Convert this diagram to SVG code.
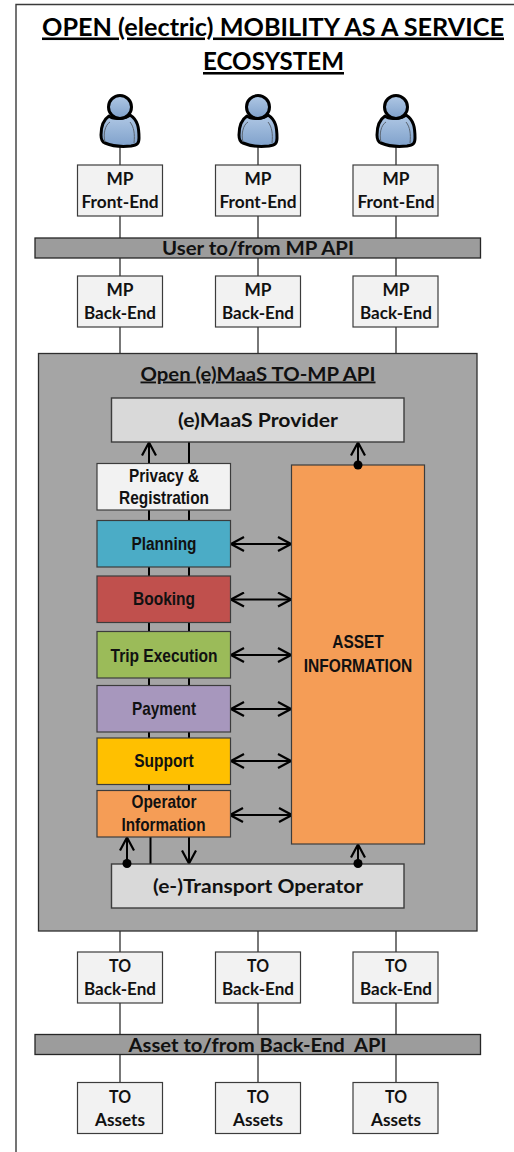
<svg xmlns="http://www.w3.org/2000/svg" xmlns:xlink="http://www.w3.org/1999/xlink" width="514" height="1152" viewBox="0 0 514 1152">
<style>
text{font-family:Lato,"Open Sans","Liberation Sans",sans-serif;font-weight:700;fill:#111;text-anchor:middle}
.t{font-size:16.5px}
.bar{font-size:18.5px}
.h{font-size:19.5px}
.n{font-family:"Liberation Sans Narrow","Liberation Sans",sans-serif;font-size:18.5px}
.title{font-size:25.5px;fill:#000;text-decoration:underline}
.box{fill:#f2f2f2;stroke:#3c3c3c;stroke-width:1.2}
.b2{fill:#9c9c9c;stroke:#262626;stroke-width:1.3}
.pv{fill:#d9d9d9;stroke:#3c3c3c;stroke-width:1.4}
.mod{stroke:#3c3c3c;stroke-width:1.2}
.c{stroke:#3f3f3f;stroke-width:1.4;fill:none}
.k{stroke:#000;stroke-width:2;fill:none}
.a1{marker-end:url(#open)}
.a2{marker-start:url(#open);marker-end:url(#open)}
.person-body{fill:url(#pg);stroke:#000;stroke-width:3;stroke-linejoin:round}
.person-fold{fill:none;stroke:#5a6470;stroke-width:1}
</style>
<defs>
<marker id="open" markerUnits="userSpaceOnUse" viewBox="-14 -8 16 16" refX="0" refY="0" markerWidth="16" markerHeight="16" orient="auto-start-reverse"><path d="M-13-7L0 0L-13 7" fill="none" stroke="#000" stroke-width="2.2"/></marker>
<linearGradient id="pg" x1="0" y1="0" x2="0" y2="1"><stop offset="0" stop-color="#b0c8e5"/><stop offset="1" stop-color="#7fa1cb"/></linearGradient>
<g id="person">
<path class="person-body" d="M-11 116C-17 120-19 127-19 135C-19 140-18 142-15 143C-8 146 2 147 11 146C17 145 19 144 19 138C19 128 18 120 10 115C6 119-7 120-11 116Z"/>
<path class="person-fold" d="M-15 142C-17 134-15 125-10 122M14 143C15 134 14 127 10 122"/>
<circle class="person-body" cy="107" r="11.500"/>
</g>
</defs>
<rect width="514" height="1152" fill="#fff"/>
<path d="M16 1152V4.500H514" fill="none" stroke="#3a3a3a" stroke-width="1.4"/>
<g id="title"><text class="title" x="273" y="35.500" textLength="462" lengthAdjust="spacingAndGlyphs">OPEN (electric) MOBILITY AS A SERVICE</text><text class="title" x="273.500" y="70" textLength="141" lengthAdjust="spacingAndGlyphs">ECOSYSTEM</text></g>
<g id="connectors">
<path class="c" d="M120 146V165M258 146V165M396 146V165M120 216V238M258 216V238M396 216V238M120 258V276M258 258V276M396 258V276M120 327V353M258 327V353M396 327V353M120 931V952M258 931V952M396 931V952M120 1003V1034M258 1003V1034M396 1003V1034M120 1054V1082M258 1054V1082M396 1054V1082"/>
</g>
<g id="node-front-1"><use href="#person" x="120"/><rect class="box" x="77.500" y="165" width="85" height="51"/><text class="t" x="120" y="185" textLength="27" lengthAdjust="spacingAndGlyphs">MP</text><text class="t" x="120" y="208" textLength="77" lengthAdjust="spacingAndGlyphs">Front-End</text></g>
<g id="node-front-2"><use href="#person" x="258"/><rect class="box" x="215.500" y="165" width="85" height="51"/><text class="t" x="258" y="185" textLength="27" lengthAdjust="spacingAndGlyphs">MP</text><text class="t" x="258" y="208" textLength="77" lengthAdjust="spacingAndGlyphs">Front-End</text></g>
<g id="node-front-3"><use href="#person" x="396"/><rect class="box" x="353" y="165" width="85" height="51"/><text class="t" x="396" y="185" textLength="27" lengthAdjust="spacingAndGlyphs">MP</text><text class="t" x="396" y="208" textLength="77" lengthAdjust="spacingAndGlyphs">Front-End</text></g>
<g id="node-user-api"><rect class="b2" x="35" y="238" width="445.500" height="20"/><text class="bar" x="258" y="255" textLength="192" lengthAdjust="spacingAndGlyphs">User to/from MP API</text></g>
<g id="node-mpback-1"><rect class="box" x="77.500" y="276" width="85" height="51"/><text class="t" x="120" y="296" textLength="27" lengthAdjust="spacingAndGlyphs">MP</text><text class="t" x="120" y="319" textLength="72" lengthAdjust="spacingAndGlyphs">Back-End</text></g>
<g id="node-mpback-2"><rect class="box" x="215.500" y="276" width="85" height="51"/><text class="t" x="258" y="296" textLength="27" lengthAdjust="spacingAndGlyphs">MP</text><text class="t" x="258" y="319" textLength="72" lengthAdjust="spacingAndGlyphs">Back-End</text></g>
<g id="node-mpback-3"><rect class="box" x="353" y="276" width="85" height="51"/><text class="t" x="396" y="296" textLength="27" lengthAdjust="spacingAndGlyphs">MP</text><text class="t" x="396" y="319" textLength="72" lengthAdjust="spacingAndGlyphs">Back-End</text></g>
<g id="node-api"><rect x="38.500" y="353.500" width="438.500" height="577.500" fill="#a5a5a5" stroke="#2e2e2e" stroke-width="1.3"/><text x="258" y="380.500" font-size="18.500" text-decoration="underline" textLength="235" lengthAdjust="spacingAndGlyphs">Open (e)MaaS TO-MP API</text></g>
<g id="inner-connectors">
<path class="k" d="M149 510V520M189 510V520M149 567V576M189 567V576M149 622V631M189 622V631M149 678V685M189 678V685M149 732V738M189 732V738M149 784V790M189 784V790M189 442V463M150.500 837V864"/>
<path class="k a1" d="M149 463V442.500"/>
<path class="k a1" d="M358 465V442.500"/>
<path class="k a1" d="M127 864V837.500"/>
<path class="k a1" d="M189 837V863.500"/>
<path class="k a1" d="M358 864V844.500"/>
<path class="k a2" d="M231 544H291"/>
<path class="k a2" d="M231 599.500H291"/>
<path class="k a2" d="M231 655H291"/>
<path class="k a2" d="M231 709H291"/>
<path class="k a2" d="M231 761H291"/>
<path class="k a2" d="M230 815H292"/>
</g>
<g id="node-provider"><rect class="pv" x="111.500" y="398" width="292.500" height="44"/><text class="h" x="258" y="427" textLength="160" lengthAdjust="spacingAndGlyphs">(e)MaaS Provider</text></g>
<g id="node-privacy"><rect class="mod" x="97" y="463.500" width="133.500" height="46.500" fill="#f2f2f2"/><text class="n" x="164" y="482" textLength="70" lengthAdjust="spacingAndGlyphs">Privacy &amp;</text><text class="n" x="164" y="504" textLength="90" lengthAdjust="spacingAndGlyphs">Registration</text></g>
<g id="node-planning"><rect class="mod" x="97" y="520.500" width="133.500" height="46.500" fill="#4bacc6"/><text class="n" x="164" y="550" textLength="65" lengthAdjust="spacingAndGlyphs">Planning</text></g>
<g id="node-booking"><rect class="mod" x="97" y="576" width="133.500" height="46.500" fill="#c0504d"/><text class="n" x="164" y="605" textLength="62" lengthAdjust="spacingAndGlyphs">Booking</text></g>
<g id="node-trip"><rect class="mod" x="97" y="631.500" width="133.500" height="46.500" fill="#9bbb59"/><text class="n" x="164" y="661.500" textLength="107" lengthAdjust="spacingAndGlyphs">Trip Execution</text></g>
<g id="node-payment"><rect class="mod" x="97" y="685.500" width="133.500" height="46.500" fill="#a797bd"/><text class="n" x="164" y="715" textLength="64" lengthAdjust="spacingAndGlyphs">Payment</text></g>
<g id="node-support"><rect class="mod" x="97" y="738" width="133.500" height="46.500" fill="#ffc000"/><text class="n" x="164" y="767" textLength="59.500" lengthAdjust="spacingAndGlyphs">Support</text></g>
<g id="node-opinfo"><rect class="mod" x="97" y="790.500" width="133.500" height="46.500" fill="#f59d56"/><text class="n" x="164" y="808" textLength="65" lengthAdjust="spacingAndGlyphs">Operator</text><text class="n" x="163.500" y="831" textLength="84" lengthAdjust="spacingAndGlyphs">Information</text></g>
<g id="node-asset"><rect class="mod" x="291.500" y="465" width="133" height="379" fill="#f59d56"/><text class="n" x="358" y="648" textLength="51.500" lengthAdjust="spacingAndGlyphs">ASSET</text><text class="n" x="358" y="672" textLength="108.500" lengthAdjust="spacingAndGlyphs">INFORMATION</text></g>
<g id="node-transport"><rect class="pv" x="111.500" y="864" width="292.500" height="44"/><text class="h" x="258" y="893" textLength="210" lengthAdjust="spacingAndGlyphs">(e-)Transport Operator</text></g>
<g id="dots" fill="#000"><circle cx="358" cy="465" r="4.500"/><circle cx="127" cy="863.500" r="4.500"/><circle cx="358" cy="863.500" r="4.500"/></g>
<g id="node-toback-1"><rect class="box" x="77.500" y="952" width="85" height="51"/><text class="t" x="120" y="972" textLength="22" lengthAdjust="spacingAndGlyphs">TO</text><text class="t" x="120" y="995" textLength="72" lengthAdjust="spacingAndGlyphs">Back-End</text></g>
<g id="node-toback-2"><rect class="box" x="215.500" y="952" width="85" height="51"/><text class="t" x="258" y="972" textLength="22" lengthAdjust="spacingAndGlyphs">TO</text><text class="t" x="258" y="995" textLength="72" lengthAdjust="spacingAndGlyphs">Back-End</text></g>
<g id="node-toback-3"><rect class="box" x="353" y="952" width="85" height="51"/><text class="t" x="396" y="972" textLength="22" lengthAdjust="spacingAndGlyphs">TO</text><text class="t" x="396" y="995" textLength="72" lengthAdjust="spacingAndGlyphs">Back-End</text></g>
<g id="node-asset-api"><rect class="b2" x="35" y="1034.500" width="445.500" height="20"/><text class="bar" x="257.500" y="1051.500" textLength="258" lengthAdjust="spacingAndGlyphs" xml:space="preserve">Asset to/from Back-End  API</text></g>
<g id="node-assets-1"><rect class="box" x="77.500" y="1082.500" width="85" height="51"/><text class="t" x="120" y="1103" textLength="22" lengthAdjust="spacingAndGlyphs">TO</text><text class="t" x="120" y="1126" textLength="50" lengthAdjust="spacingAndGlyphs">Assets</text></g>
<g id="node-assets-2"><rect class="box" x="215.500" y="1082.500" width="85" height="51"/><text class="t" x="258" y="1103" textLength="22" lengthAdjust="spacingAndGlyphs">TO</text><text class="t" x="258" y="1126" textLength="50" lengthAdjust="spacingAndGlyphs">Assets</text></g>
<g id="node-assets-3"><rect class="box" x="353" y="1082.500" width="85" height="51"/><text class="t" x="396" y="1103" textLength="22" lengthAdjust="spacingAndGlyphs">TO</text><text class="t" x="396" y="1126" textLength="50" lengthAdjust="spacingAndGlyphs">Assets</text></g>
</svg>
